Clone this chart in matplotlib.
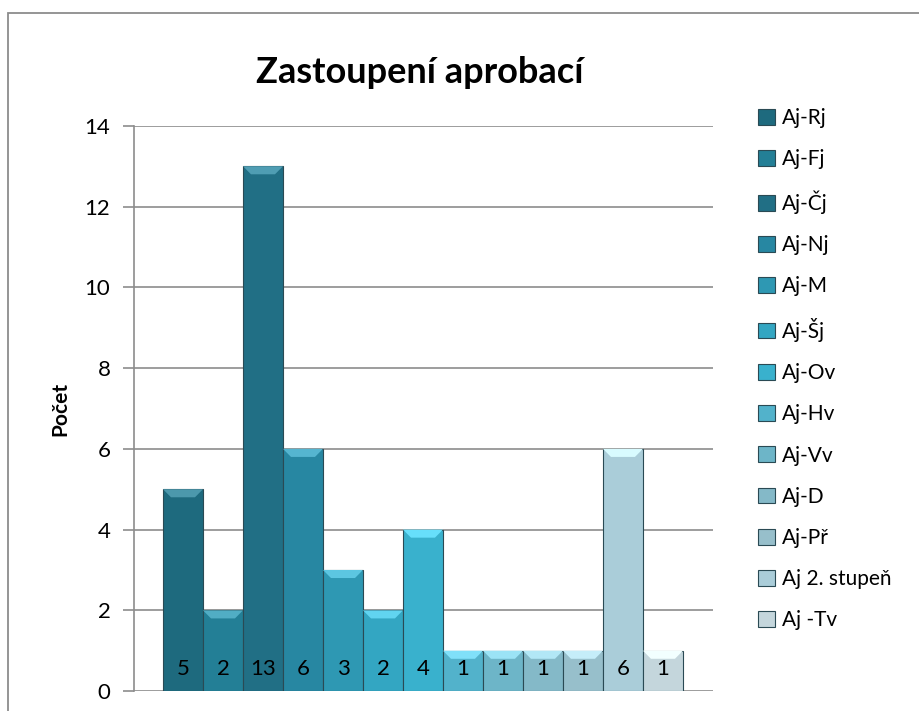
import matplotlib.pyplot as plt
from matplotlib.patches import Rectangle, Polygon
import matplotlib.colors as mcolors

plt.rcParams['font.family'] = ['Lato', 'DejaVu Sans']

# data
labels = ['Aj-Rj', 'Aj-Fj', 'Aj-Čj', 'Aj-Nj', 'Aj-M', 'Aj-Šj', 'Aj-Ov',
          'Aj-Hv', 'Aj-Vv', 'Aj-D', 'Aj-Př', 'Aj 2. stupeň', 'Aj -Tv']
counts = [5, 2, 13, 6, 3, 2, 4, 1, 1, 1, 1, 6, 1]
colors = ['#1e6a7e', '#237f96', '#216f85', '#2787a2', '#2e98b3', '#33a6c2',
          '#39b1cd', '#52b2cb', '#6db5c8', '#84b9c8', '#97bfcb', '#aacdd9',
          '#c4d6dc']

fig = plt.figure(figsize=(9.19, 7.11), dpi=100)
ax = fig.add_axes([0.1458, 0.028, 0.63, 0.795])

# chart border (runs off the image on right and bottom)
fig.patches.append(Rectangle((8 / 919, -0.05), 1.0, 1 - 13 / 711 + 0.05,
                             transform=fig.transFigure, fill=False,
                             edgecolor='#8c8c8c', linewidth=1.3))

x0 = 0.725
handles = []
for i, (lab, v, c) in enumerate(zip(labels, counts, colors)):
    b = ax.bar(x0 + i, v, width=1.0, align='edge', color=c,
               edgecolor='#2a4a54', linewidth=0.8, label=lab, zorder=3)
    handles.append(b)
    # light bevel on top
    light = mcolors.to_rgb(c)
    light = tuple(min(1, ch + 0.18) for ch in light)
    bev = 0.2
    ax.add_patch(Polygon([(x0 + i, v), (x0 + i + 1, v),
                          (x0 + i + 0.8, v - bev), (x0 + i + 0.2, v - bev)],
                         closed=True, facecolor=light, edgecolor='none',
                         zorder=4))
    ax.text(x0 + i + 0.5, 0.55, str(v), ha='center', va='center',
            fontsize=16, color='black', zorder=5)

ax.set_xlim(0, 14.475)
ax.set_ylim(0, 14)
ax.set_yticks(range(0, 15, 2))
ax.set_xticks([])
ax.grid(axis='y', color='#8c8c8c', linewidth=1.2, zorder=0)
for s in ['top', 'right', 'bottom']:
    ax.spines[s].set_visible(False)
ax.spines['left'].set_color('#8c8c8c')
ax.spines['left'].set_linewidth(1.2)
ax.tick_params(axis='y', length=8, width=1.2, color='#8c8c8c',
               labelsize=16, pad=9)
ax.set_ylabel('Počet', fontsize=15, fontweight='bold', labelpad=10)

fig.text(0.457, 0.898, 'Zastoupení aprobací', ha='center', va='center',
         fontsize=26, fontweight='bold')

ax.legend(handles=handles, loc='upper left', bbox_to_anchor=(758 / 919, 1 - 108 / 711),
          bbox_transform=fig.transFigure, frameon=False, fontsize=15,
          handlelength=0.8, handleheight=0.8, handletextpad=0.35,
          labelspacing=1.02, borderpad=0, borderaxespad=0)

fig.savefig('out.png', dpi=100)
